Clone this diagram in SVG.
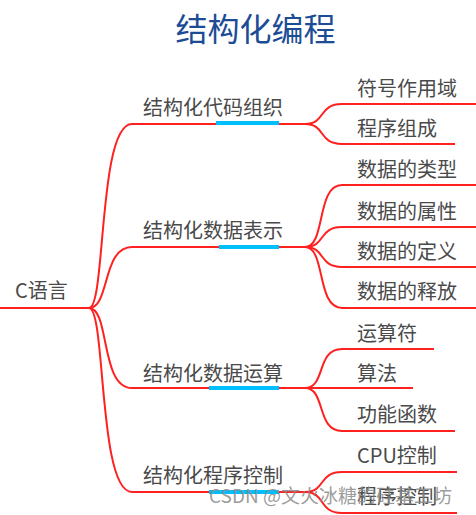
<svg xmlns="http://www.w3.org/2000/svg" width="476" height="515" viewBox="0 0 476 515">
<style>
.t{font-family:"Noto Sans CJK SC","Noto Sans",sans-serif;font-size:20px;fill:#4a4a4a}
.title{font-family:"Noto Sans CJK SC","Noto Sans",sans-serif;font-size:32px;fill:#1c4c96}
.c{fill:none;stroke:#ff2020;stroke-width:2}
.u{fill:#00bfff}
.wm{font-family:"Noto Sans CJK SC","Liberation Sans",sans-serif;font-size:19px;fill:#8a8a8a;fill-opacity:0.85}
</style>
<rect width="476" height="515" fill="#fff"/>
<text id="title" class="title" x="255.5" y="41" text-anchor="middle">结构化编程</text>
<g id="connectors">
<path class="c" d="M0,308 H89"/>
<path class="c" d="M89,308 C106,308 98,124 132,124 H305"/>
<path class="c" d="M89,308 C110,308 102,247 132,247 H305"/>
<path class="c" d="M89,308 C110,308 100,388 132,388 H305"/>
<path class="c" d="M89,308 C106,308 98,492 132,492 H305"/>
<path class="c" d="M305,124 C326,124 318,104 342,104 H476"/>
<path class="c" d="M305,124 C326,124 318,144 342,144 H455"/>
<path class="c" d="M305,247 C326,247 316,185 342,185 H476"/>
<path class="c" d="M305,247 C326,247 318,227 342,227 H476"/>
<path class="c" d="M305,247 C326,247 318,267 342,267 H476"/>
<path class="c" d="M305,247 C326,247 316,308 342,308 H476"/>
<path class="c" d="M305,388 C326,388 316,349 342,349 H434"/>
<path class="c" d="M305,388 H413"/>
<path class="c" d="M305,388 C326,388 316,431 342,431 H455"/>
<path class="c" d="M305,492 C326,492 318,472 342,472 H457"/>
<path class="c" d="M305,492 C326,492 318,513 342,513 H457"/>
</g>
<g id="root"><text class="t" x="15" y="298">C语言</text></g>
<g id="b1"><text class="t" x="143" y="115">结构化代码组织</text><rect class="u" x="216" y="121" width="63" height="4"/></g>
<g id="b2"><text class="t" x="143" y="238">结构化数据表示</text><rect class="u" x="219" y="245" width="60" height="4"/></g>
<g id="b3"><text class="t" x="143" y="381">结构化数据运算</text><rect class="u" x="209" y="386" width="70" height="4"/></g>
<g id="b4"><text class="t" x="143" y="483">结构化程序控制</text><rect class="u" x="209" y="490" width="70" height="4"/></g>
<g id="l1"><text class="t" x="357" y="96">符号作用域</text></g>
<g id="l2"><text class="t" x="357" y="136">程序组成</text></g>
<g id="l3"><text class="t" x="357" y="177">数据的类型</text></g>
<g id="l4"><text class="t" x="357" y="219">数据的属性</text></g>
<g id="l5"><text class="t" x="357" y="259">数据的定义</text></g>
<g id="l6"><text class="t" x="357" y="299">数据的释放</text></g>
<g id="l7"><text class="t" x="357" y="341">运算符</text></g>
<g id="l8"><text class="t" x="357" y="381">算法</text></g>
<g id="l9"><text class="t" x="357" y="422">功能函数</text></g>
<g id="l10"><text class="t" x="357" y="463">CPU控制</text></g>
<g id="l11"><text class="t" x="357" y="504">程序控制</text></g>
<text class="wm" x="209" y="503">CSDN @文火冰糖的硅基工坊</text>
</svg>
